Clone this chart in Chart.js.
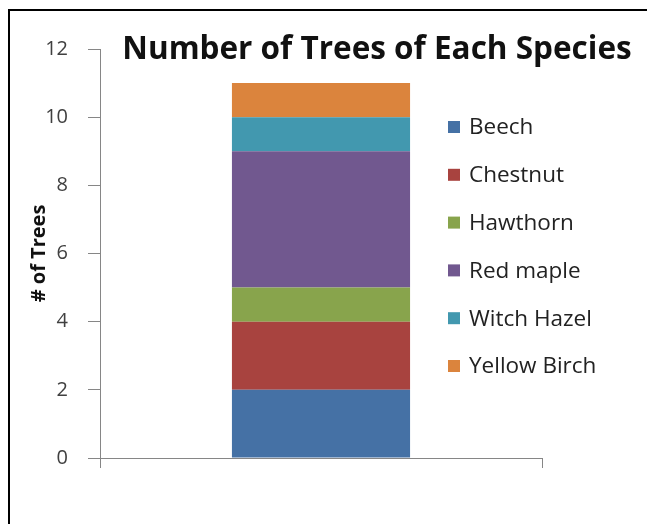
<!DOCTYPE html>
<html>
<head>
<meta charset="utf-8">
<script src="https://cdn.jsdelivr.net/npm/chart.js@4"></script>
<style>
    html, body { margin: 0; padding: 0; background: #fff; overflow: hidden; }
    #wrap { position: relative; width: 647px; height: 524px; }
    #frame {
        position: absolute; left: 8px; top: 9px; width: 700px; height: 600px;
        border-left: 2px solid #000; border-top: 2px solid #000;
    }
    canvas { position: absolute; left: 0; top: 0; }
</style>
</head>
<body>
<div id="wrap">
    <div id="frame"></div>
    <canvas id="chart" width="647" height="524"></canvas>
</div>
<script>
const categories = [""];
const species = ["Beech", "Chestnut", "Hawthorn", "Red maple", "Witch Hazel", "Yellow Birch"];
const treeCounts = [2, 2, 1, 4, 1, 1];
const colors = ["#4571A5", "#A8433F", "#88A44C", "#71588F", "#4298AF", "#DB843D"];
const yTicks = [0, 2, 4, 6, 8, 10, 12];

const chartTitle = "Number of Trees of Each Species";
const yTitle = "# of Trees";

const datasets = species.map((name, i) => ({
    label: name,
    data: [treeCounts[i]],
    backgroundColor: colors[i],
    borderWidth: 0,
    categoryPercentage: 1,
    barPercentage: 0.403
}));

// title and legend both sit on top of the plot area, so draw them here
const overlayPlugin = {
    id: "overlay",
    afterDraw(chart) {
        const ctx = chart.ctx;
        const area = chart.chartArea;
        ctx.save();
        ctx.fillStyle = "#111";
        ctx.font = "bold 31.5px 'Open Sans'";
        ctx.textAlign = "center";
        ctx.textBaseline = "middle";
        ctx.fillText(chartTitle, area.left + 277, area.top + 1);

        ctx.font = "22.5px 'Open Sans'";
        ctx.textAlign = "left";
        chart.data.datasets.forEach((ds, i) => {
            const y = area.top + 78 + i * 47.8;
            ctx.fillStyle = ds.backgroundColor;
            ctx.fillRect(area.right - 94, y - 6, 12, 12);
            ctx.fillStyle = "#222";
            ctx.fillText(ds.label, area.right - 73, y + 1);
        });
        ctx.restore();
    }
};

new Chart(document.getElementById("chart"), {
    type: "bar",
    data: { labels: categories, datasets: datasets },
    options: {
        responsive: false,
        animation: false,
        layout: { padding: { left: 0, top: 49, right: 105, bottom: 56 } },
        plugins: {
            legend: { display: false },
            title: { display: false },
            tooltip: { enabled: false }
        },
        scales: {
            x: {
                stacked: true,
                border: { color: "#868686", width: 1 },
                grid: { display: true, drawOnChartArea: false, drawTicks: true, tickLength: 10, color: "#868686", offset: true },
                ticks: { display: false },
                afterFit(scale) { scale.height = 10; }
            },
            y: {
                stacked: true,
                min: 0,
                max: 12,
                border: { color: "#868686", width: 1 },
                grid: { drawOnChartArea: false, drawTicks: true, tickLength: 12, color: "#868686" },
                afterBuildTicks(scale) { scale.ticks = yTicks.map(v => ({ value: v })); },
                ticks: {
                    padding: 20,
                    color: "#404040",
                    font: { family: "'Open Sans'", size: 20 }
                },
                title: {
                    display: true,
                    text: yTitle,
                    color: "#111",
                    font: { family: "'Open Sans'", size: 20, weight: "bold" },
                    padding: { top: 27, bottom: 0 }
                },
                afterFit(scale) { scale.width = 100; }
            }
        }
    },
    plugins: [overlayPlugin]
});
</script>
</body>
</html>
